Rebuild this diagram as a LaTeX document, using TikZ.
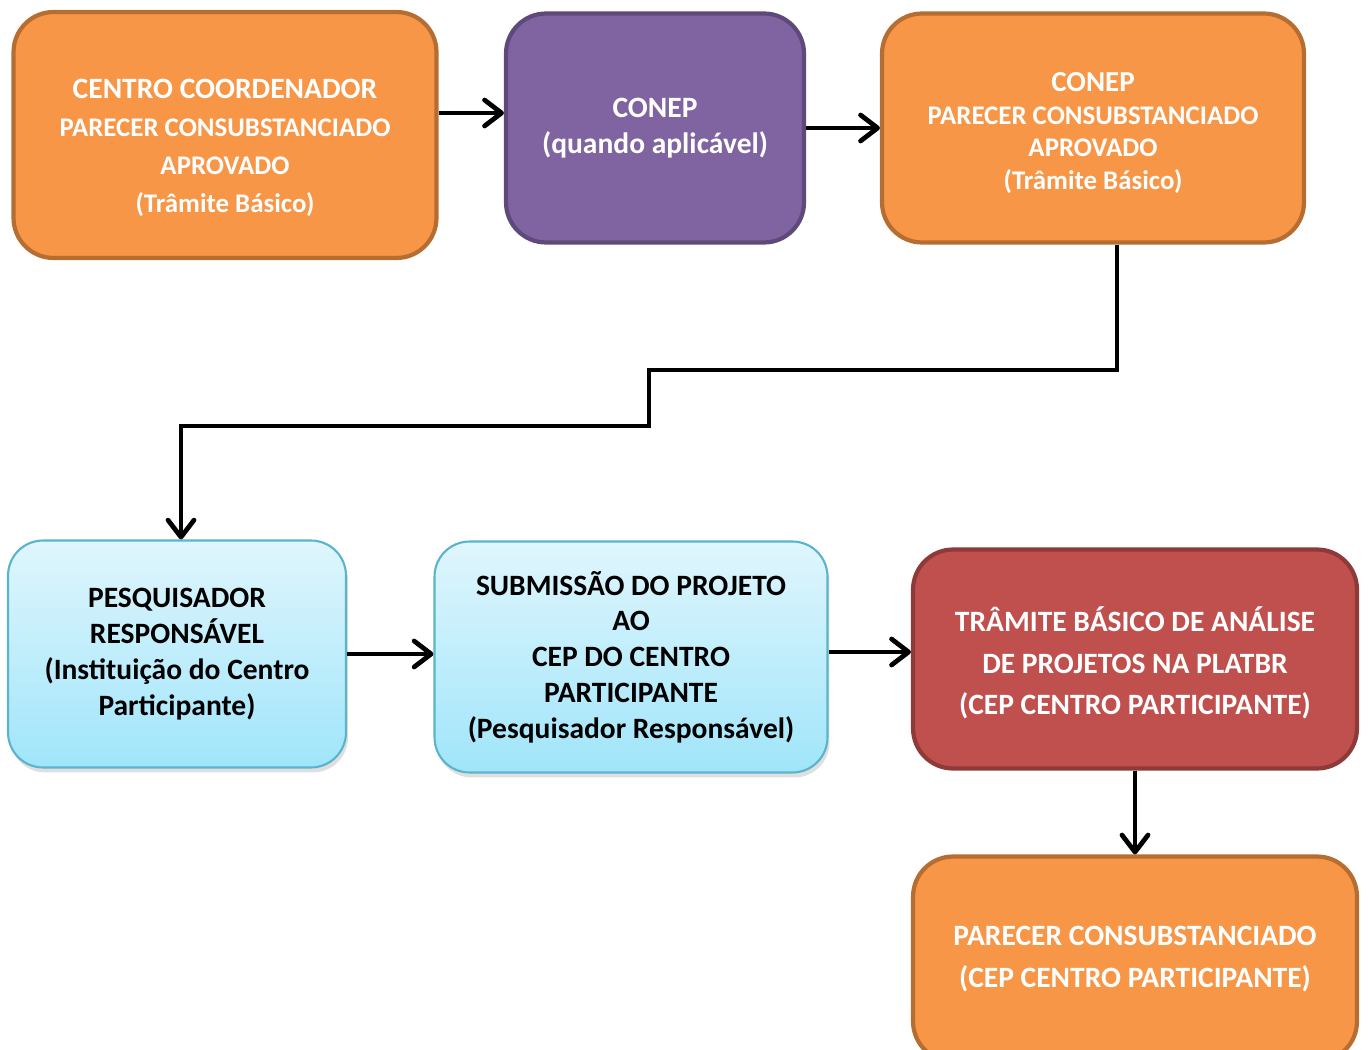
\documentclass[tikz,border=0pt]{standalone}
\usepackage{fontspec}
\setmainfont{Carlito}
\usetikzlibrary{arrows.meta,shadows}

\definecolor{orangefill}{HTML}{F79646}
\definecolor{orangeline}{HTML}{B66D31}
\definecolor{purplefill}{HTML}{8064A2}
\definecolor{purpleline}{HTML}{5E4A7A}
\definecolor{redfill}{HTML}{C0504D}
\definecolor{redline}{HTML}{8E3A38}
\definecolor{bluetop}{HTML}{E0F6FD}
\definecolor{bluebottom}{HTML}{A0E5FA}
\definecolor{blueline}{HTML}{5AB4CC}

\begin{document}
\begin{tikzpicture}[x=0.02cm,y=-0.02cm,
  box/.style={rounded corners=0.8cm, align=center, font=\bfseries\fontsize{16.8}{20.4}\selectfont, inner sep=0pt},
  orangebox/.style={box, draw=orangeline, fill=orangefill, line width=2.4pt, text=white},
  purplebox/.style={box, draw=purpleline, fill=purplefill, line width=2.4pt, text=white},
  redbox/.style={box, draw=redline, fill=redfill, line width=2.4pt, text=white},
  bluebox/.style={box, rounded corners=0.7cm, draw=blueline, line width=1.2pt, top color=bluetop, bottom color=bluebottom, text=black,
    drop shadow={opacity=0.25, shadow xshift=0.04cm, shadow yshift=-0.1cm}},
  flow/.style={line width=2.7pt, -{Straight Barb[length=3.4mm,width=5.2mm,line cap=round,line join=round]}}]
\useasboundingbox (0,0) rectangle (1368,1050);

% top row
\node[orangebox, minimum width=8.46cm, minimum height=4.92cm, font=\bfseries\fontsize{15.3}{21.6}\selectfont] (coord) at (225,135)
  {\rule{0pt}{26pt}{\fontsize{16.8}{21.6}\selectfont CENTRO COORDENADOR}\\PARECER CONSUBSTANCIADO\\APROVADO\\(Trâmite Básico)};
\node[purplebox, minimum width=5.96cm, minimum height=4.58cm] (conep) at (655,128)
  {CONEP\\(quando aplicável)};
\node[orangebox, minimum width=8.44cm, minimum height=4.58cm, font=\bfseries\fontsize{15.3}{18.7}\selectfont] (parconep) at (1093,128)
  {\rule{0pt}{16.5pt}{\fontsize{16.5}{18.7}\selectfont CONEP}\\PARECER CONSUBSTANCIADO\\APROVADO\\(Trâmite Básico)};

% middle row
\node[bluebox, minimum width=6.76cm, minimum height=4.54cm] (pesq) at (177,654)
  {PESQUISADOR\\RESPONSÁVEL\\(Instituição do Centro\\Participante)};
\node[bluebox, minimum width=7.86cm, minimum height=4.62cm] (subm) at (631,657)
  {SUBMISSÃO DO PROJETO\\AO\\CEP DO CENTRO\\PARTICIPANTE\\(Pesquisador Responsável)};
\node[redbox, minimum width=8.88cm, minimum height=4.38cm, font=\bfseries\fontsize{16.8}{23.6}\selectfont] (tram) at (1135,659)
  {\rule{0pt}{19pt}TRÂMITE BÁSICO DE ANÁLISE\\DE PROJETOS NA PLATBR\\(CEP CENTRO PARTICIPANTE)};

% bottom
\node[orangebox, minimum width=8.88cm, minimum height=4.1cm, font=\bfseries\fontsize{16.8}{23.4}\selectfont] (parcep) at (1135,959)
  {PARECER CONSUBSTANCIADO\\(CEP CENTRO PARTICIPANTE)};

% connectors
\coordinate (bend1) at (649,370);
\coordinate (bend2) at (649,426);
\draw[flow] ([yshift=0.44cm]coord.east) -- ([yshift=0.44cm]coord.east -| conep.west);
\draw[flow] (conep.east) -- (parconep.west);
\draw[flow] ([xshift=0.48cm]parconep.south) |- (bend1) -- (bend2) -| ([xshift=0.08cm]pesq.north);
\draw[flow] (pesq.east) -- (pesq.east -| subm.west);
\draw[flow] ([yshift=0.1cm]subm.east) -- ([yshift=0.1cm]subm.east -| tram.west);
\draw[flow] (tram.south) -- (parcep.north);
\end{tikzpicture}
\end{document}
